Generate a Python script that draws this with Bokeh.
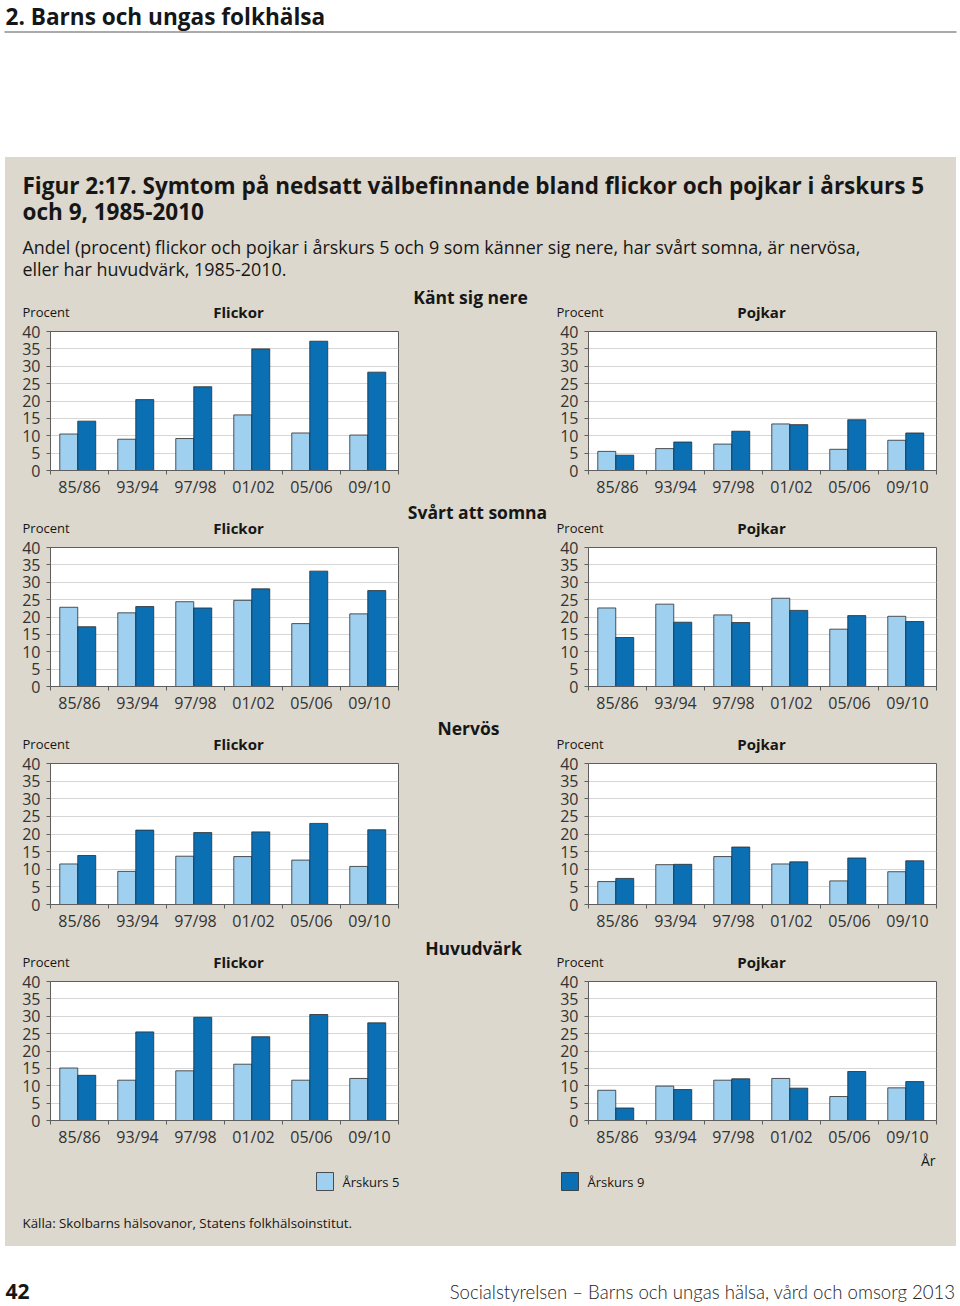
from bokeh.plotting import figure
from bokeh.models import (Range1d, FactorRange, LinearAxis, FixedTicker, Grid,
                          ColumnDataSource, Spacer)
from bokeh.layouts import column, row
from bokeh.transform import dodge
from bokeh.embed import file_html
from bokeh.resources import INLINE
from bokeh.core.properties import value

# ---------------- data ----------------
periods = ["85/86", "93/94", "97/98", "01/02", "05/06", "09/10"]
y_ticks = [0, 5, 10, 15, 20, 25, 30, 35, 40]

nere_flickor_5 = [10.5, 9.0, 9.2, 16.0, 10.8, 10.2]
nere_flickor_9 = [14.2, 20.4, 24.1, 35.0, 37.2, 28.3]
nere_pojkar_5 = [5.5, 6.3, 7.6, 13.4, 6.1, 8.7]
nere_pojkar_9 = [4.4, 8.2, 11.3, 13.2, 14.6, 10.8]

somna_flickor_5 = [22.8, 21.2, 24.4, 24.8, 18.1, 20.9]
somna_flickor_9 = [17.2, 23.0, 22.6, 28.1, 33.2, 27.6]
somna_pojkar_5 = [22.6, 23.7, 20.6, 25.4, 16.5, 20.2]
somna_pojkar_9 = [14.1, 18.5, 18.4, 21.9, 20.4, 18.7]

nervos_flickor_5 = [11.5, 9.4, 13.7, 13.6, 12.6, 10.8]
nervos_flickor_9 = [13.9, 21.1, 20.4, 20.6, 23.0, 21.2]
nervos_pojkar_5 = [6.5, 11.3, 13.6, 11.5, 6.7, 9.3]
nervos_pojkar_9 = [7.4, 11.4, 16.3, 12.1, 13.2, 12.4]

huvud_flickor_5 = [15.1, 11.6, 14.3, 16.2, 11.6, 12.1]
huvud_flickor_9 = [13.0, 25.5, 29.7, 24.1, 30.5, 28.1]
huvud_pojkar_5 = [8.7, 9.9, 11.6, 12.1, 6.9, 9.4]
huvud_pojkar_9 = [3.6, 8.9, 12.0, 9.3, 14.1, 11.2]

categories = ["Känt sig nere", "Svårt att somna", "Nervös", "Huvudvärk"]
series = [
    (nere_flickor_5, nere_flickor_9, nere_pojkar_5, nere_pojkar_9),
    (somna_flickor_5, somna_flickor_9, somna_pojkar_5, somna_pojkar_9),
    (nervos_flickor_5, nervos_flickor_9, nervos_pojkar_5, nervos_pojkar_9),
    (huvud_flickor_5, huvud_flickor_9, huvud_pojkar_5, huvud_pojkar_9),
]
legend_labels = ["Årskurs 5", "Årskurs 9"]

# ---------------- style ----------------
GRAY = "#dcd8cd"
LIGHT = "#9fd0ef"
DARK = "#0b6fb4"
EDGE = "#2b2b2b"
AXIS = "#5e5e5e"
TXT = "#161616"
FONT = "Open Sans"
W = 960
IW = 951            # inner (grey box) width
ROW_HS = [216, 216, 218, 216]
CAP_H = 37          # caption strip above each row of panels
TOP_B = 10          # panel border above the frame
FRAME_H = 146


def pixfig(w, h, bg):
    p = figure(width=w, height=h, x_range=Range1d(0, w), y_range=Range1d(h, 0),
               x_axis_type=None, y_axis_type=None, output_backend="svg",
               toolbar_location=None, min_border=0, background_fill_color=bg,
               border_fill_color=bg, outline_line_color=None)
    return p


def txt(p, x, y, s, size, bold=False, align="left", color=TXT, font=FONT):
    p.text(x=[x], y=[y], text=[s], text_font=value(font), text_font_size=size,
           text_font_style="bold" if bold else "normal", text_align=align,
           text_baseline="middle", text_color=color)


def panel(v5, v9, width, height, bl, br, bb):
    src = ColumnDataSource(dict(period=periods, a5=v5, a9=v9))
    p = figure(width=width, height=height, x_range=FactorRange(factors=periods),
               y_range=Range1d(0, 40), x_axis_type=None, y_axis_type=None,
               output_backend="svg", toolbar_location=None,
               min_border_left=bl, min_border_right=br, min_border_top=TOP_B,
               min_border_bottom=bb,
               background_fill_color="white", border_fill_color=GRAY,
               outline_line_color=AXIS, outline_line_width=1)
    p.add_layout(Grid(dimension=1, ticker=FixedTicker(ticks=y_ticks[1:-1]),
                      grid_line_color="#d6d6d6", grid_line_width=1))
    yax = LinearAxis(ticker=FixedTicker(ticks=y_ticks),
                     major_label_text_font=FONT, major_label_text_font_size="16px",
                     major_label_text_color="#333333", axis_line_color=AXIS,
                     major_tick_line_color=AXIS, major_tick_out=4, major_tick_in=0,
                     minor_tick_line_color=None, major_label_standoff=6)
    p.add_layout(yax, "left")
    # factor range synthetic coordinates: category i spans [i, i+1]
    centers = [i + 0.5 for i in range(len(periods))]
    xax = LinearAxis(ticker=FixedTicker(ticks=centers,
                                        minor_ticks=list(range(len(periods) + 1))),
                     major_label_overrides={c: s for c, s in zip(centers, periods)},
                     major_label_text_font=FONT, major_label_text_font_size="16px",
                     major_label_text_color="#333333", axis_line_color=AXIS,
                     major_tick_line_color=None, major_tick_out=0, major_tick_in=0,
                     minor_tick_line_color=AXIS, minor_tick_out=4, minor_tick_in=0,
                     major_label_standoff=1)
    p.add_layout(xax, "below")
    p.vbar(x=dodge("period", -0.185, range=p.x_range), top="a5", width=0.31,
           source=src, fill_color=LIGHT, line_color=EDGE, line_width=0.8)
    p.vbar(x=dodge("period", 0.125, range=p.x_range), top="a9", width=0.31,
           source=src, fill_color=DARK, line_color=EDGE, line_width=0.8)
    return p


# ---------------- header (white) ----------------
head = pixfig(W, 157, "white")
txt(head, 5, 16, "2. Barns och ungas folkhälsa", "22.6px", bold=True)
head.segment(x0=[4], y0=[31.5], x1=[956], y1=[31.5], line_color="#555555", line_width=1)

# ---------------- grey box ----------------
title = pixfig(IW, 127, GRAY)
txt(title, 17, 28, "Figur 2:17. Symtom på nedsatt välbefinnande bland flickor och pojkar i årskurs 5",
    "22.5px", bold=True)
txt(title, 17, 54, "och 9, 1985-2010", "22.5px", bold=True)
txt(title, 17, 89, "Andel (procent) flickor och pojkar i årskurs 5 och 9 som känner sig nere, har svårt somna, är nervösa,",
    "17.9px")
txt(title, 17, 111, "eller har huvudvärk, 1985-2010.", "17.9px")

inner = [title]
cat_pos = [(465, 12), (472, 11), (463, 11), (468, 13)]
for k, (cat, (f5, f9, p5, p9)) in enumerate(zip(categories, series)):
    rh = ROW_HS[k]
    cap = pixfig(IW, CAP_H, GRAY)
    cx, cy = cat_pos[k]
    txt(cap, cx, cy, cat, "17.5px", bold=True, align="center")
    txt(cap, 17, 27, "Procent", "13px")
    txt(cap, 233, 27, "Flickor", "15px", bold=True, align="center")
    txt(cap, 551, 27, "Procent", "13px")
    txt(cap, 756, 27, "Pojkar", "15px", bold=True, align="center")
    ph = rh - CAP_H
    bb = rh - CAP_H - TOP_B - FRAME_H
    left = panel(f5, f9, 395, ph, 45, 2, bb)
    mid = pixfig(150, ph, GRAY)
    right = panel(p5, p9, 406, ph, 38, 20, bb)
    inner.append(cap)
    inner.append(row(left, mid, right, spacing=0,
                     styles={"background-color": GRAY}))

bot = pixfig(IW, 96, GRAY)
txt(bot, 930, 10, "År", "14px", align="right")
bot.quad(left=[311], right=[328], top=[22], bottom=[40], fill_color=LIGHT,
         line_color=EDGE, line_width=0.8)
txt(bot, 337, 31, legend_labels[0], "13px")
bot.quad(left=[556], right=[573], top=[22], bottom=[40], fill_color=DARK,
         line_color=EDGE, line_width=0.8)
txt(bot, 582, 31, legend_labels[1], "13px")
txt(bot, 17, 72, "Källa: Skolbarns hälsovanor, Statens folkhälsoinstitut.", "13.3px")
inner.append(bot)

box_h = 127 + sum(ROW_HS) + 96
box = row(Spacer(width=5, height=box_h),
          column(*inner, spacing=0, styles={"background-color": GRAY}),
          Spacer(width=4, height=box_h), spacing=0)

# ---------------- footer (white) ----------------
foot = pixfig(W, 60, "white")
txt(foot, 5, 45, "42", "21px", bold=True)
txt(foot, 955, 45, "Socialstyrelsen – Barns och ungas hälsa, vård och omsorg 2013", "18.6px",
    align="right", font="Lato Light", color="#222222")

page = column(head, box, foot, spacing=0)

with open("out.html", "w") as f:
    f.write(file_html(page, INLINE))
